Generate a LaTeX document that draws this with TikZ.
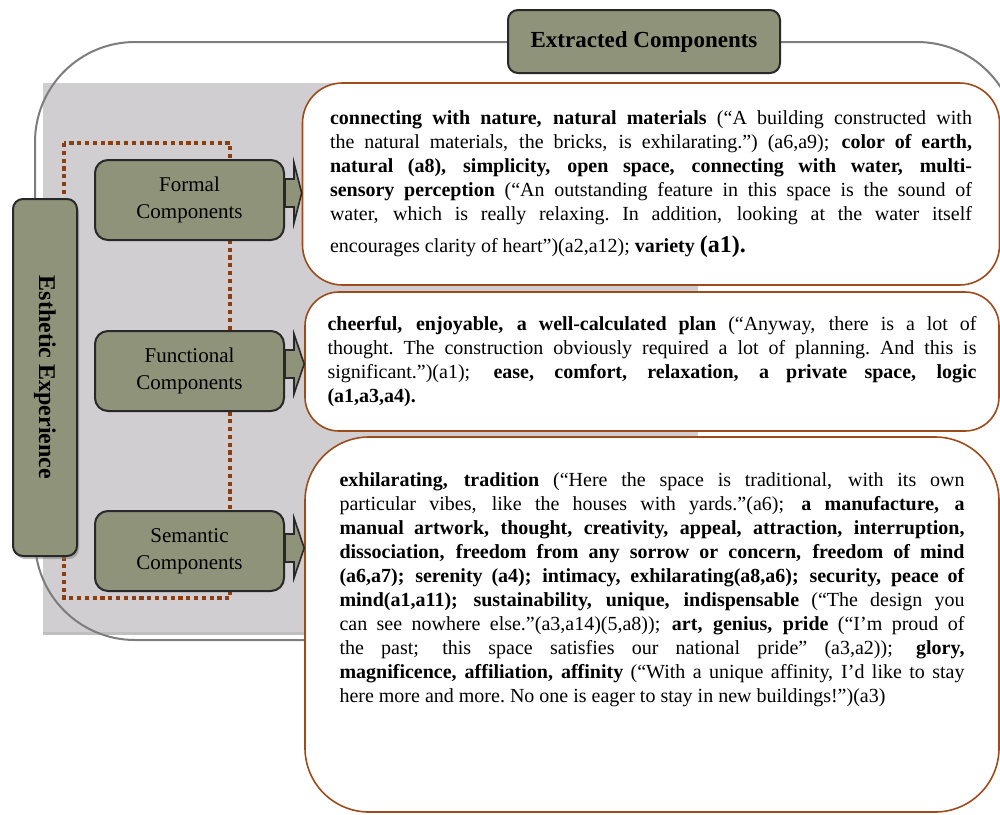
\documentclass[tikz,border=0pt]{standalone}
\usepackage{fontspec}
\setmainfont{Liberation Serif}
\usetikzlibrary{calc,shadows}

\definecolor{olivebox}{RGB}{143,147,121}
\definecolor{boxline}{RGB}{40,40,40}
\definecolor{brownline}{RGB}{158,74,26}
\definecolor{dotbrown}{RGB}{139,62,15}
\definecolor{panelgray}{RGB}{208,206,208}
\definecolor{outergray}{RGB}{125,125,125}

% quote text block of a given width, every line stretched by \fl
\newcommand{\qtext}[2]{\vbox{\hsize=#1\spaceskip=2.5pt plus 4pt minus 0.9pt\xspaceskip=\spaceskip #2}}
\newcommand{\fl}[1]{\hbox to \hsize{#1}}

\tikzset{
	compbox/.style={draw=boxline, fill=olivebox, line width=1pt, rounded corners=6.5pt,
		minimum width=94.5pt, minimum height=40pt, align=center,
		font=\fontsize{10.5}{13.5}\selectfont},
	quotebox/.style={draw=brownline, fill=white, line width=0.8pt, inner sep=0pt,
		font=\fontsize{10}{12}\selectfont},
	blockarrow/.style={draw=boxline, fill=olivebox, line width=0.8pt, line join=miter},
	dotline/.style={draw=dotbrown, line width=2.4pt, dash pattern=on 2.1pt off 1.8pt},
}

\begin{document}
\begin{tikzpicture}[x=0.5pt, y=-0.5pt]

		\useasboundingbox (0,0) rectangle (1000,814);

		% background panel and frame
		\path[fill=panelgray, drop shadow={shadow xshift=0pt, shadow yshift=-1.5pt, opacity=0.5}] (43,83) rectangle (698,632);
		\draw[outergray, line width=1pt, rounded corners=50pt] (35,42) rectangle (1017,640);
		\draw[dotline] (64,143) rectangle (230,598);

		\node[draw=boxline, fill=olivebox, line width=1pt, rounded corners=5pt, rotate=-90,
			minimum width=178.5pt, minimum height=32pt,
			font=\fontsize{12}{14}\selectfont\bfseries,
			drop shadow={shadow xshift=1pt, shadow yshift=-1.5pt, opacity=0.5}] (esth) at (45,377.5) {Esthetic Experience};

		\node[compbox] (formal) at (189.5,200) {Formal\\Components};
		\node[compbox] (functional) at (189.5,371) {Functional\\Components};
		\node[compbox] (semantic) at (189.5,551) {Semantic\\Components};

		\node[quotebox, rounded corners=20pt, minimum width=348.5pt, minimum height=101pt] (natq) at (651,184) {\qtext{321pt}{%
			\fl{\textbf{connecting with nature, natural materials} (“A building constructed with}
			\fl{the natural materials, the bricks, is exhilarating.”) (a6,a9); \textbf{color of earth,}}
			\fl{\textbf{natural (a8), simplicity, open space, connecting with water, multi-}}
			\fl{\textbf{sensory perception} (“An outstanding feature in this space is the sound of}
			\fl{water, which is really relaxing. In addition, looking at the water itself}
			\vskip4pt
			\hbox{encourages clarity of heart”)(a2,a12); \textbf{variety {\fontsize{12}{14}\selectfont(a1).}}}}};

		\node[quotebox, rounded corners=17pt, minimum width=347pt, minimum height=69.5pt] (funq) at (652,361.5) {\qtext{324.5pt}{%
			\fl{\textbf{cheerful, enjoyable, a well-calculated plan} (“Anyway, there is a lot of}
			\fl{thought. The construction obviously required a lot of planning. And this is}
			\fl{significant.”)(a1); \textbf{ease, comfort, relaxation, a private space, logic}}
			\hbox{\textbf{(a1,a3,a4).}}}};

		\node[quotebox, rounded corners=32pt, minimum width=347pt, minimum height=187.5pt] (semq) at (652,624.5) {\qtext{312.5pt}{%
			\fl{\textbf{exhilarating, tradition} (“Here the space is traditional, with its own}
			\fl{particular vibes, like the houses with yards.”(a6); \textbf{a manufacture, a}}
			\fl{\textbf{manual artwork, thought, creativity, appeal, attraction, interruption,}}
			\fl{\textbf{dissociation, freedom from any sorrow or concern, freedom of mind}}
			\fl{\textbf{(a6,a7); serenity (a4); intimacy, exhilarating(a8,a6); security, peace of}}
			\fl{\textbf{mind(a1,a11); sustainability, unique, indispensable} (“The design you}
			\fl{can see nowhere else.”(a3,a14)(5,a8)); \textbf{art, genius, pride} (“I’m proud of}
			\fl{the past; this space satisfies our national pride” (a3,a2)); \textbf{glory,}}
			\fl{\textbf{magnificence, affiliation, affinity} (“With a unique affinity, I’d like to stay}
			\hbox{here more and more. No one is eager to stay in new buildings!”)(a3)}
			\vskip35pt}};

		% block arrows from the components to their quotes
		\foreach \c/\q/\d in {formal/natq/-7, functional/funq/-7, semantic/semq/-3}{
			\draw[blockarrow] ($(\c.east)+(0,\d-14)$) -- ++(9,0) -- ++(0,-16)
				-- ($(\c.east -| \q.west)+(0,\d)$)
				-- ($(\c.east)+(9,\d+30)$) -- ++(0,-16) -- ($(\c.east)+(0,\d+14)$) -- cycle;
		}

		\node[draw=boxline, fill=olivebox, line width=1pt, rounded corners=5pt,
			minimum width=136pt, minimum height=31.5pt,
			font=\fontsize{11.5}{14}\selectfont\bfseries] (title) at (644,41.5) {Extracted Components};

	\end{tikzpicture}
\end{document}
